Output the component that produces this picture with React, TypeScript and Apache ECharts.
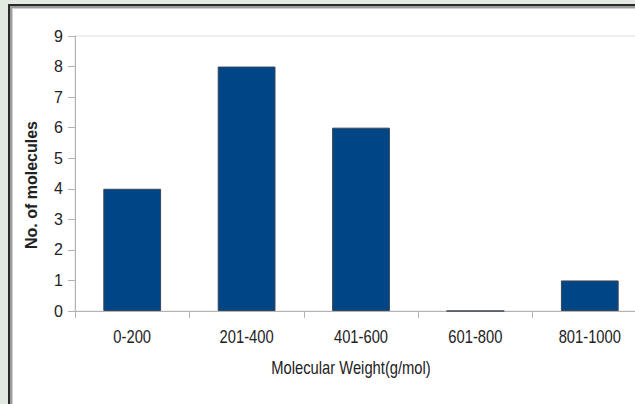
import React, { useEffect, useRef } from "react";
import * as echarts from "echarts";

const categories = ["0-200", "201-400", "401-600", "601-800", "801-1000"];
const counts = [4, 8, 6, 0, 1];
const yTicks = { min: 0, max: 9, interval: 1 };
const xTitle = "Molecular Weight(g/mol)";
const yTitle = "No. of molecules";

const NARROW = 0.82;

export default function App() {
  const ref = useRef<HTMLDivElement>(null);
  useEffect(() => {
    if (!ref.current) return;
    const chart = echarts.init(ref.current, undefined, { renderer: "svg" });
    chart.setOption({
      animation: false,
      grid: {
        left: 75,
        top: 36,
        width: 572,
        height: 275,
        show: true,
        borderColor: "#dedede",
        borderWidth: 1,
        backgroundColor: "transparent",
      },
      xAxis: {
        type: "category",
        data: categories,
        axisLine: { lineStyle: { color: "#b3b3b3", width: 1 } },
        axisTick: { show: true, alignWithLabel: false, length: 7, lineStyle: { color: "#b3b3b3" } },
        axisLabel: { show: false },
        splitLine: { show: false },
      },
      yAxis: {
        type: "value",
        min: yTicks.min,
        max: yTicks.max,
        interval: yTicks.interval,
        axisLine: { show: true, lineStyle: { color: "#b3b3b3", width: 1 } },
        axisTick: { show: true, length: 7, lineStyle: { color: "#b3b3b3" } },
        axisLabel: {
          color: "#222",
          fontFamily: "'Liberation Sans', sans-serif",
          fontSize: 16,
          margin: 12,
        },
        splitLine: { show: false },
      },
      series: [
        {
          type: "bar",
          data: counts,
          barWidth: "50.5%",
          itemStyle: { color: "#004586", borderColor: "#3a4756", borderWidth: 1 },
        },
      ],
    });

    const baseY = chart.convertToPixel({ yAxisIndex: 0 }, 0) as number;
    const labelTexts = categories.map((c, i) => {
      const px = chart.convertToPixel({ xAxisIndex: 0 }, i) as number;
      return {
        type: "text",
        x: px,
        y: baseY + 25,
        scaleX: NARROW,
        style: {
          text: c,
          fill: "#222",
          font: "18px 'Liberation Sans', sans-serif",
          align: "center",
          verticalAlign: "middle",
        },
      };
    });

    chart.setOption({
      graphic: [
        ...labelTexts,
        {
          type: "text",
          x: 31,
          y: 185,
          rotation: Math.PI / 2,
          style: {
            text: yTitle,
            fill: "#222",
            font: "bold 16px 'Liberation Sans', sans-serif",
            align: "center",
            verticalAlign: "middle",
          },
        },
        {
          type: "text",
          x: 351,
          y: 367,
          scaleX: NARROW,
          style: {
            text: xTitle,
            fill: "#222",
            font: "18px 'Liberation Sans', sans-serif",
            align: "center",
            verticalAlign: "middle",
          },
        },
      ],
    });
    return () => chart.dispose();
  }, []);

  return (
    <div
      style={{
        position: "fixed",
        left: 0,
        top: 0,
        width: 635,
        height: 404,
        overflow: "hidden",
        background: "#e1e9e1",
      }}
    >
      <div style={{ position: "absolute", left: 8, top: 4, right: 0, bottom: 0, background: "#2b2b2b" }} />
      <div style={{ position: "absolute", left: 10, top: 6, right: 0, bottom: 0, background: "#9c9c9c" }} />
      <div style={{ position: "absolute", left: 12, top: 8, right: 0, bottom: 0, background: "#d0d0d0" }} />
      <div style={{ position: "absolute", left: 13, top: 9, right: 0, bottom: 0, background: "#ffffff" }} />
      <div ref={ref} style={{ position: "absolute", left: 0, top: 0, width: 700, height: 404 }} />
    </div>
  );
}
